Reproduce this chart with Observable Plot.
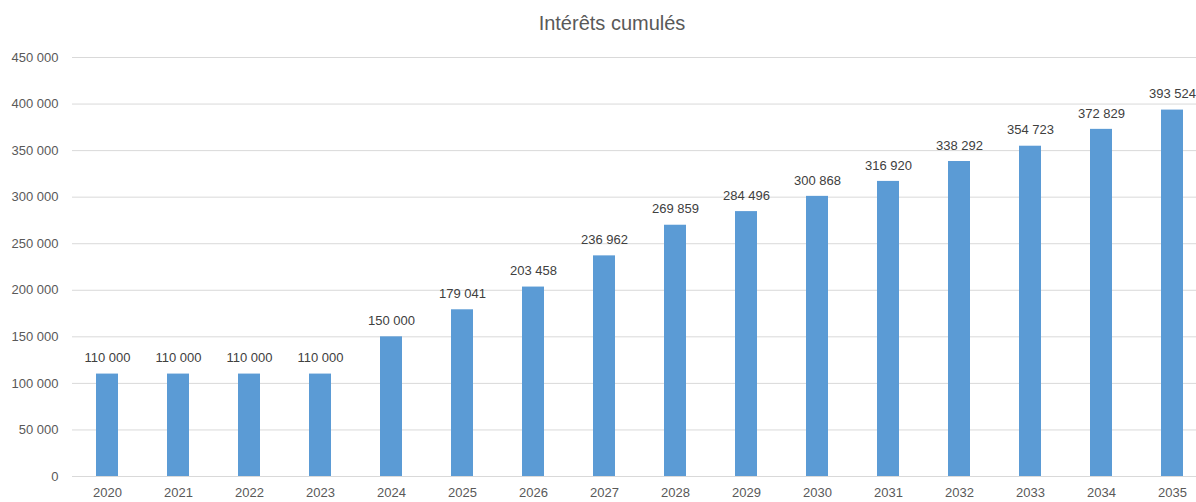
<!DOCTYPE html>
<html>
<head>
<meta charset="utf-8">
<script src="https://cdn.jsdelivr.net/npm/d3@7"></script>
<script src="https://cdn.jsdelivr.net/npm/@observablehq/plot@0.6"></script>
<style>
  html, body { margin: 0; padding: 0; background: #fff; overflow: hidden; width: 1196px; height: 502px; }
  #title { height: 40px; line-height: 46px; text-align: center; font-family: "Liberation Sans", Arial, sans-serif; font-size: 20px; color: #595959; padding-left: 28px; }
  #chart svg { overflow: visible; }
</style>
</head>
<body>
<div id="title">Intérêts cumulés</div>
<div id="chart"></div>
<script>
const years = ["2020","2021","2022","2023","2024","2025","2026","2027","2028","2029","2030","2031","2032","2033","2034","2035"];
const values = [110000,110000,110000,110000,150000,179041,203458,236962,269859,284496,300868,316920,338292,354723,372829,393524];
const yTicks = [0,50000,100000,150000,200000,250000,300000,350000,400000,450000];

const data = years.map((y, i) => ({year: y, value: values[i]}));
const fmt = d3.formatLocale({decimal: ",", thousands: " ", grouping: [3], currency: ["", ""]}).format(",");

const chart = Plot.plot({
  width: 1196,
  height: 462,
  marginTop: 17,
  marginBottom: 26,
  marginLeft: 72,
  marginRight: -12,
  style: {fontFamily: "'Liberation Sans', Arial, sans-serif", fontSize: "13px", color: "#595959", background: "white", overflow: "visible"},
  x: {type: "band", domain: years, paddingInner: 0.69, paddingOuter: 0.345, label: null},
  y: {domain: [0, 450000], ticks: yTicks, label: null},
  marks: [
    Plot.gridY(yTicks, {stroke: "#d9d9d9", strokeOpacity: 1, strokeWidth: 1}),
    Plot.barY(data, {x: "year", y: "value", fill: "#5b9bd5"}),
    Plot.text(data, {x: "year", y: "value", text: d => fmt(d.value), dy: -16, fill: "#404040", fontSize: 13}),
    Plot.axisY(yTicks, {tickSize: 0, tickPadding: 14, tickFormat: fmt, fill: "#595959", fontSize: 13}),
    Plot.axisX({tickSize: 0, tickPadding: 11, fill: "#595959", fontSize: 13})
  ]
});
document.getElementById("chart").appendChild(chart);
</script>
</body>
</html>
